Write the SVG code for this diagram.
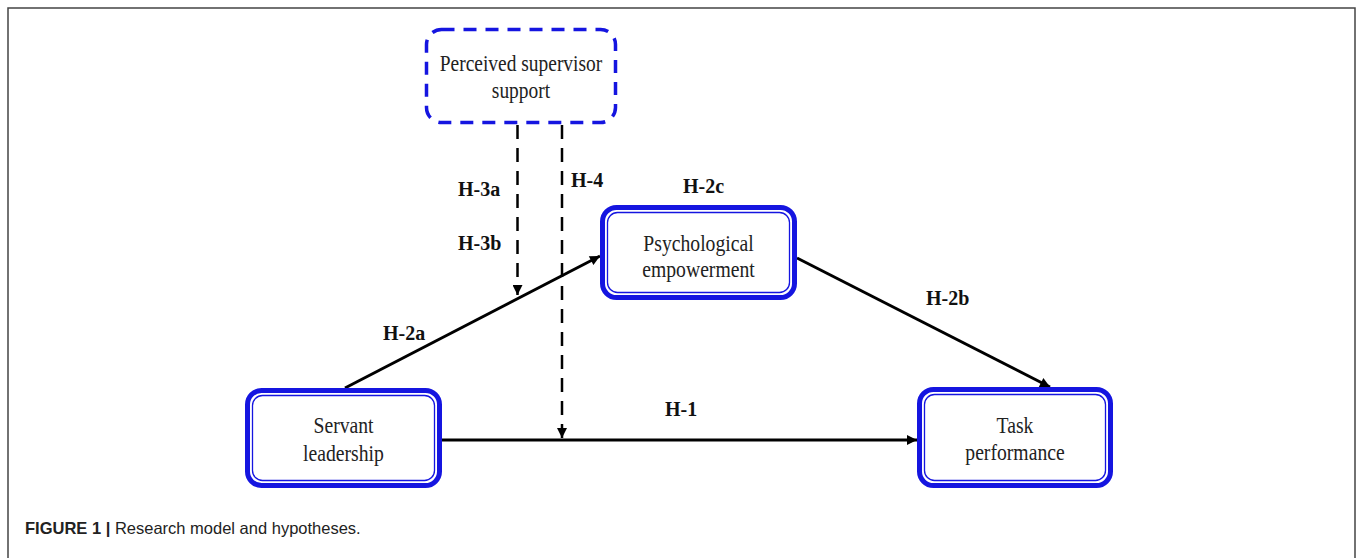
<svg xmlns="http://www.w3.org/2000/svg" width="1357" height="558" viewBox="0 0 1357 558">
<style>
.node-outer{fill:#fff;stroke:#1515e0;stroke-width:5}
.node-inner{fill:none;stroke:#1515e0;stroke-width:1.3}
.dashbox{fill:#fff;stroke:#1515e0;stroke-width:3.5;stroke-dasharray:13 9}
.nt{font-family:"Liberation Serif","Times New Roman",serif;font-size:24px;fill:#222;text-anchor:middle}
.lbl{font-family:"Liberation Serif","Times New Roman",serif;font-size:20px;font-weight:bold;fill:#111}
.solid{stroke:#000;stroke-width:3;fill:none}
.dashed{stroke:#000;stroke-width:2.5;fill:none;stroke-dasharray:14 9}
.frame{stroke:#444;stroke-width:1.5;fill:none}
.cap{font-family:"Liberation Sans",Arial,sans-serif;font-size:16.5px;fill:#222}
</style>
<defs>
<marker id="ah" viewBox="0 0 10 10" refX="10" refY="5" markerWidth="12" markerHeight="10" markerUnits="userSpaceOnUse" orient="auto">
<path d="M0,0 L10,5 L0,10 Z" fill="#000"/>
</marker>
</defs>
<rect width="1357" height="558" fill="#fff"/>
<g id="frame">
<path class="frame" d="M8,558 V8 H1355 V558"/>
</g>
<g id="connectors">
<line class="solid" x1="442" y1="440" x2="917" y2="440" marker-end="url(#ah)"/>
<line class="solid" x1="345" y1="388" x2="600" y2="256" marker-end="url(#ah)"/>
<line class="solid" x1="797" y1="258" x2="1050" y2="387" marker-end="url(#ah)"/>
<line class="dashed" x1="517.5" y1="125" x2="517.5" y2="295" marker-end="url(#ah)"/>
<line class="dashed" x1="562" y1="125" x2="562" y2="438" marker-end="url(#ah)"/>
<text class="lbl" x="458" y="196">H-3a</text>
<text class="lbl" x="458" y="250">H-3b</text>
<text class="lbl" x="571" y="187">H-4</text>
<text class="lbl" x="683" y="193">H-2c</text>
<text class="lbl" x="383" y="340">H-2a</text>
<text class="lbl" x="926" y="305">H-2b</text>
<text class="lbl" x="665" y="416">H-1</text>
</g>
<g id="node-pss">
<rect class="dashbox" x="426.5" y="29.5" width="189" height="93" rx="15"/>
<text class="nt" transform="translate(521,71) scale(0.81,1)">Perceived supervisor</text>
<text class="nt" transform="translate(521,98) scale(0.81,1)">support</text>
</g>
<g id="node-pe">
<rect class="node-outer" x="602.5" y="207.5" width="192" height="90" rx="14"/>
<rect class="node-inner" x="607.5" y="212.5" width="182" height="80" rx="10"/>
<text class="nt" transform="translate(698.5,251) scale(0.82,1)">Psychological</text>
<text class="nt" transform="translate(698.5,277) scale(0.82,1)">empowerment</text>
</g>
<g id="node-sl">
<rect class="node-outer" x="247.5" y="390.5" width="192" height="95" rx="14"/>
<rect class="node-inner" x="252.5" y="395.5" width="182" height="85" rx="10"/>
<text class="nt" transform="translate(343.5,433) scale(0.82,1)">Servant</text>
<text class="nt" transform="translate(343.5,461) scale(0.82,1)">leadership</text>
</g>
<g id="node-tp">
<rect class="node-outer" x="919.5" y="389.5" width="191" height="96" rx="14"/>
<rect class="node-inner" x="924.5" y="394.5" width="181" height="86" rx="10"/>
<text class="nt" transform="translate(1015,433) scale(0.82,1)">Task</text>
<text class="nt" transform="translate(1015,460) scale(0.82,1)">performance</text>
</g>
<g id="caption">
<text class="cap" x="25" y="534"><tspan font-weight="bold">FIGURE 1 |</tspan> Research model and hypotheses.</text>
</g>
</svg>
